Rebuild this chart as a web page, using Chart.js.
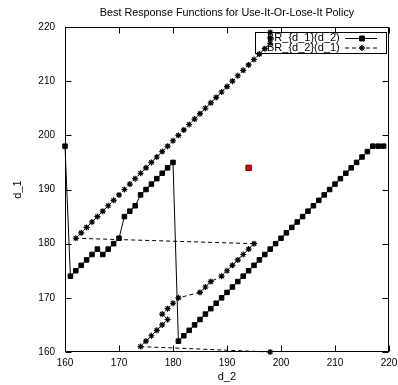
<!DOCTYPE html>
<html><head><meta charset="utf-8">
<script src="https://cdn.jsdelivr.net/npm/chart.js@4.4.1/dist/chart.umd.min.js"></script>
<style>html,body{margin:0;padding:0;background:#fff}#wrap{width:398px;height:385px}</style>
</head><body><div id="wrap"><canvas id="c" width="398" height="385"></canvas></div>
<script>
const titleText = 'Best Response Functions for Use-It-Or-Lose-It Policy';
const xLabel = 'd_2';
const yLabel = 'd_1';
const seriesNames = ['BR_{d_1}(d_2)', 'BR_{d_2}(d_1)'];
const axisTicks = [160, 170, 180, 190, 200, 210, 220];

// BR_{d_1}(d_2): opponent's d_2 and best-response d_1
const d2Values = [160,161,162,163,164,165,166,167,168,169,170,171,172,173,174,175,176,177,178,179,
                  180,181,182,183,184,185,186,187,188,189,190,191,192,193,194,195,196,197,198,199,
                  200,201,202,203,204,205,206,207,208,209,210,211,212,213,214,215,216,217,218,219];
const brD1 = [198,174,175,176,177,178,179,178,179,180,181,185,186,187,189,190,191,192,193,194,
              195,162,163,164,165,166,167,168,169,170,171,172,173,174,175,176,177,178,179,180,
              181,182,183,184,185,186,187,188,189,190,191,192,193,194,195,196,197,198,198,198];

// BR_{d_2}(d_1): opponent's d_1 and best-response d_2
const d1Values = [160,161,162,163,164,165,166,167,168,169,170,171,172,173,174,175,176,177,178,179,
                  180,181,182,183,184,185,186,187,188,189,190,191,192,193,194,195,196,197,198,199,
                  200,201,202,203,204,205,206,207,208,209,210,211,212,213,214,215,216,217,218,219];
const brD2 = [198,174,175,176,177,178,179,178,179,180,181,185,186,187,189,190,191,192,193,194,
              195,162,163,164,165,166,167,168,169,170,171,172,173,174,175,176,177,178,179,180,
              181,182,183,184,185,186,187,188,189,190,191,192,193,194,195,196,197,198,198,198];

const equilibriumX = [194];
const equilibriumY = [194];

const FONT = '"Liberation Sans", Arial, Helvetica, sans-serif';

const framePlugin = {
  id: 'frame',
  beforeDatasetsDraw(chart) {
    const {ctx, chartArea, scales} = chart;
    const {left, right, top, bottom} = chartArea;
    const L = Math.round(left) + 0.5, R = Math.round(right) - 0.5;
    const T = Math.round(top) + 0.5, B = Math.round(bottom) - 0.5;
    ctx.save();
    ctx.strokeStyle = '#000';
    ctx.lineWidth = 1;
    ctx.beginPath();
    const tl = 6;
    scales.x.ticks.forEach(t => {
      const px = Math.round(scales.x.getPixelForValue(t.value)) + 0.5;
      ctx.moveTo(px, B); ctx.lineTo(px, B - tl);
      ctx.moveTo(px, T); ctx.lineTo(px, T + tl);
    });
    scales.y.ticks.forEach(t => {
      const py = Math.round(scales.y.getPixelForValue(t.value)) + 0.5;
      ctx.moveTo(L, py); ctx.lineTo(L + tl, py);
      ctx.moveTo(R, py); ctx.lineTo(R - tl, py);
    });
    ctx.stroke();
    ctx.strokeRect(L, T, R - L, B - T);

    // key box (gnuplot style, transparent)
    const bx = 255.5, by = 32.5, bw = 131, bh = 21;
    ctx.strokeRect(bx, by, bw, bh);
    ctx.fillStyle = '#000';
    ctx.font = '11px ' + FONT;
    ctx.textBaseline = 'middle';
    ctx.textAlign = 'left';
    const rows = [38, 47.5];
    const x0 = 345, x1 = 377, xm = 362;
    seriesNames.forEach((name, i) => {
      const ds = chart.data.datasets[i];
      ctx.fillText(name, 267, rows[i]);
      ctx.save();
      ctx.beginPath();
      ctx.setLineDash(ds.borderDash || []);
      ctx.moveTo(x0, rows[i] + 0.5); ctx.lineTo(x1, rows[i] + 0.5);
      ctx.stroke();
      ctx.restore();
      Chart.helpers.drawPoint(ctx, {
        pointStyle: ds.pointStyle, radius: ds.pointRadius, borderWidth: ds.pointBorderWidth, rotation: 0
      }, xm, rows[i] + 0.5);
      ctx.fillStyle = '#000';
      ctx.strokeStyle = '#000';
      ctx.fill();
      ctx.stroke();
    });
    ctx.restore();
  }
};

const ctx = document.getElementById('c').getContext('2d');
new Chart(ctx, {
  type: 'scatter',
  data: {
    datasets: [
      {
        label: seriesNames[0],
        data: d2Values.map((v, i) => ({x: v, y: brD1[i]})),
        showLine: true,
        borderColor: '#000',
        borderWidth: 1,
        pointStyle: 'rect',
        pointRadius: 3.2,
        pointBackgroundColor: '#000',
        pointBorderColor: '#000',
        pointBorderWidth: 1,
        clip: false
      },
      {
        label: seriesNames[1],
        data: d1Values.map((v, i) => ({x: brD2[i], y: v})),
        showLine: true,
        borderColor: '#000',
        borderWidth: 1,
        borderDash: [4, 3],
        pointStyle: 'star',
        pointRadius: 3,
        pointBackgroundColor: '#000',
        pointBorderColor: '#000',
        pointBorderWidth: 1.2,
        clip: false
      },
      {
        label: 'equilibrium',
        data: equilibriumX.map((v, i) => ({x: v, y: equilibriumY[i]})),
        showLine: false,
        pointStyle: 'rect',
        pointRadius: 3.8,
        pointBackgroundColor: '#ee0000',
        pointBorderColor: '#5a0000',
        pointBorderWidth: 1,
        clip: false
      }
    ]
  },
  options: {
    responsive: false,
    animation: false,
    devicePixelRatio: 1,
    layout: {padding: {left: 0, right: 9, top: 0, bottom: 0}},
    plugins: {
      legend: {display: false},
      tooltip: {enabled: false},
      title: {
        display: true,
        fullSize: false,
        text: titleText,
        color: '#000',
        font: {family: FONT, size: 10.8, weight: 'normal'},
        padding: {top: 7, bottom: 7.04}
      }
    },
    scales: {
      x: {
        type: 'linear',
        min: 160, max: 220,
        afterBuildTicks: s => { s.ticks = axisTicks.map(v => ({value: v})); },
        grid: {display: false, drawTicks: false},
        border: {display: false},
        ticks: {color: '#000', font: {family: FONT, size: 10}, padding: 5, maxRotation: 0, autoSkip: false},
        title: {display: true, text: xLabel, color: '#000', font: {family: FONT, size: 11}, padding: {top: 0, bottom: 1.4}},
        afterFit: s => { s.height = 33; s.paddingLeft = 0; s.paddingRight = 0; }
      },
      y: {
        type: 'linear',
        min: 160, max: 220,
        afterBuildTicks: s => { s.ticks = axisTicks.map(v => ({value: v})); },
        grid: {display: false, drawTicks: false},
        border: {display: false},
        ticks: {color: '#000', font: {family: FONT, size: 10}, padding: 10, autoSkip: false},
        title: {display: true, text: yLabel, color: '#000', font: {family: FONT, size: 11}, padding: {top: 11.4, bottom: 0}},
        afterFit: s => { s.width = 65; s.paddingTop = 0; s.paddingBottom = 0; }
      }
    }
  },
  plugins: [framePlugin]
});
</script>
</body></html>
